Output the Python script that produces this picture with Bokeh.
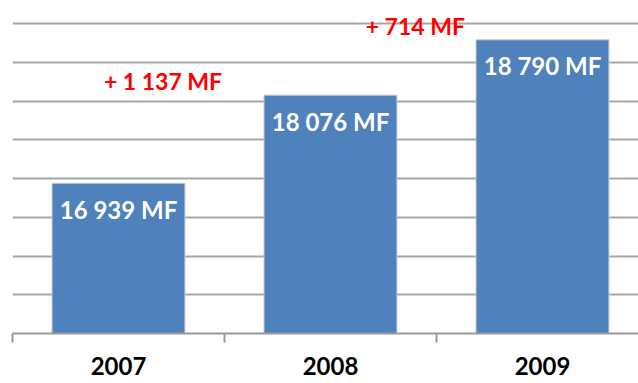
from bokeh.plotting import figure
from bokeh.models import ColumnDataSource, FixedTicker, Range1d
from bokeh.core.properties import value
from bokeh.embed import file_html
from bokeh.resources import INLINE

# Yearly totals (MF)
years = ["2007", "2008", "2009"]
totals = [16939, 18076, 18790]


def fmt(n):
    return f"{n:,}".replace(",", " ")


centers = [i + 0.5 for i in range(len(years))]
value_labels = [f"{fmt(v)} MF" for v in totals]

# Year-over-year increases, shown above the later bar
increases = [b - a for a, b in zip(totals[:-1], totals[1:])]
inc_labels = [f"+ {fmt(d)} MF" for d in increases]
inc_y = totals[1:]
inc_x = [0.71, 1.90]

FONT = value("Lato")

p = figure(
    width=638, height=383,
    x_range=Range1d(0, 2.953), y_range=Range1d(15000, 19298),
    output_backend="svg", toolbar_location=None,
    min_border_left=12, min_border_right=0, min_border_top=0, min_border_bottom=50,
)
p.outline_line_color = None
p.background_fill_color = "white"
p.border_fill_color = "white"

src = ColumnDataSource(dict(x=centers, top=totals, lab=value_labels))
p.vbar(x="x", top="top", bottom=15000, width=0.627, source=src,
       fill_color="#4F81BD", line_color="#C3CCD8", line_width=1)

p.text(x="x", y="top", text="lab", source=src, text_align="center",
       text_baseline="alphabetic", y_offset=26, text_color="white",
       text_font=FONT, text_font_style="bold", text_font_size="24px")

p.text(x=inc_x, y=inc_y, text=inc_labels, text_align="center",
       text_baseline="alphabetic", y_offset=-14, text_color="#FF0000",
       text_font=FONT, text_font_style="bold", text_font_size="23px")

# y: gridlines only
p.yaxis.visible = False
p.ygrid.ticker = FixedTicker(ticks=list(range(15500, 19001, 500)))
p.ygrid.grid_line_color = "#A6A6A6"
p.ygrid.grid_line_width = 2
p.xgrid.visible = False

# x: labels at bar centers, tick marks at category boundaries
ax = p.xaxis[0]
ax.ticker = FixedTicker(ticks=centers, minor_ticks=[0, 1, 2, 3])
ax.major_label_overrides = {c: y for c, y in zip(centers, years)}
ax.major_tick_line_color = None
ax.major_tick_out = 0
ax.major_tick_in = 0
ax.minor_tick_out = 9
ax.minor_tick_in = 0
ax.minor_tick_line_color = "#999999"
ax.minor_tick_line_width = 2
ax.axis_line_color = "#999999"
ax.axis_line_width = 2
ax.major_label_standoff = 14
ax.major_label_text_line_height = 1.0
ax.major_label_text_font = "Lato"
ax.major_label_text_font_style = "bold"
ax.major_label_text_font_size = "24px"
ax.major_label_text_color = "#000000"

open("out.html", "w").write(file_html(p, INLINE))
